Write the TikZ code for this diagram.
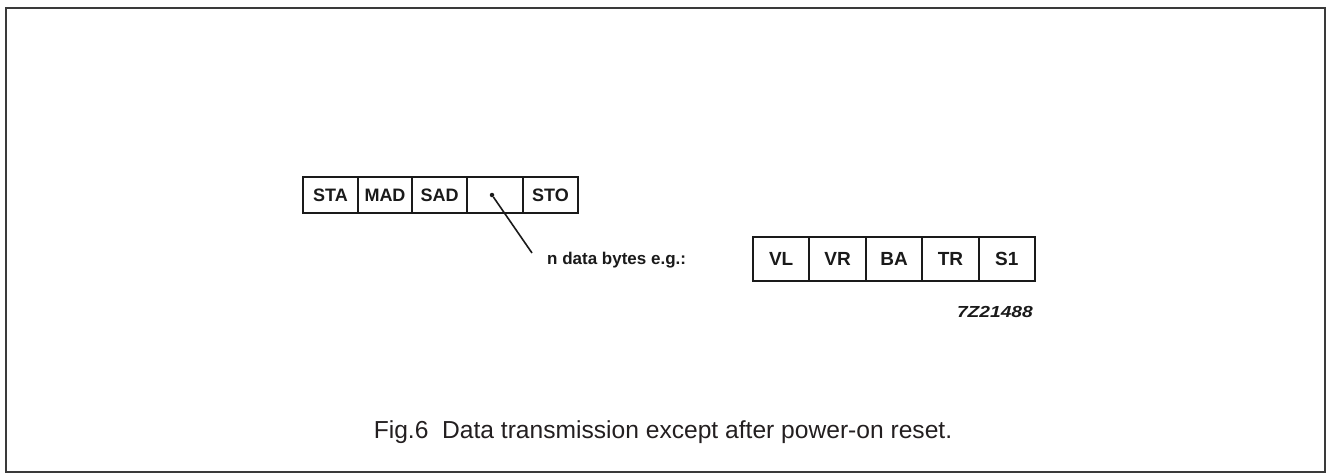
\documentclass[tikz,border=0pt]{standalone}
\usepackage{fontspec}
\setmainfont{Liberation Sans}
\definecolor{framegray}{HTML}{3A3A3A}
\definecolor{ink}{HTML}{1A1A1A}
\definecolor{captionink}{HTML}{231F20}
\begin{document}
\begin{tikzpicture}[x=1pt,y=-1pt,
  topbox/.style={draw=ink,line width=1.9pt,inner sep=0pt,minimum height=36pt,
    font=\fontsize{18}{20}\selectfont\bfseries,text=ink},
  botbox/.style={draw=ink,line width=1.9pt,inner sep=0pt,minimum height=44pt,minimum width=56.4pt,
    font=\fontsize{19}{21}\selectfont\bfseries,text=ink},
  lbl/.style={inner sep=0pt,text=ink}]
\useasboundingbox (0,0) rectangle (1327,474);
\draw[framegray,line width=2pt] (5.5,7.5) rectangle (1325,472);
% top row
\node[topbox,minimum width=55pt] (sta) at (330.5,195) {STA};
\node[topbox,minimum width=54pt] (mad) at (385,195) {MAD};
\node[topbox,minimum width=55pt] (sad) at (439.5,195) {SAD};
\node[topbox,minimum width=56pt] (data) at (495,195) {};
\node[topbox,minimum width=55pt] (sto) at (550.5,195) {STO};
\node[circle,fill=ink,inner sep=0pt,minimum size=4.5pt] (dot) at (492,195) {};
\coordinate (lend) at (532,253);
\draw[ink,line width=1.6pt] (dot) -- (lend);
\node[lbl,anchor=base west,font=\fontsize{17}{19}\selectfont\bfseries] (nbytes) at (547,264) {n data bytes e.g.:};
% bottom row
\node[botbox] (vl) at (781.2,259) {VL};
\node[botbox] (vr) at (837.6,259) {VR};
\node[botbox] (ba) at (894,259) {BA};
\node[botbox] (tr) at (950.4,259) {TR};
\node[botbox] (s1) at (1006.8,259) {S1};
\node[lbl,anchor=base east,font=\fontsize{16}{18}\selectfont\bfseries\itshape] (code) at (1033,317) {\scalebox{1.2}[1]{7Z21488}};
% caption
\node[anchor=base,inner sep=0pt,text=captionink,font=\fontsize{24.6}{27}\selectfont] (cap) at (663,438) {Fig.6\hspace{0.278em}\ Data transmission except after power-on reset.};
\end{tikzpicture}
\end{document}
